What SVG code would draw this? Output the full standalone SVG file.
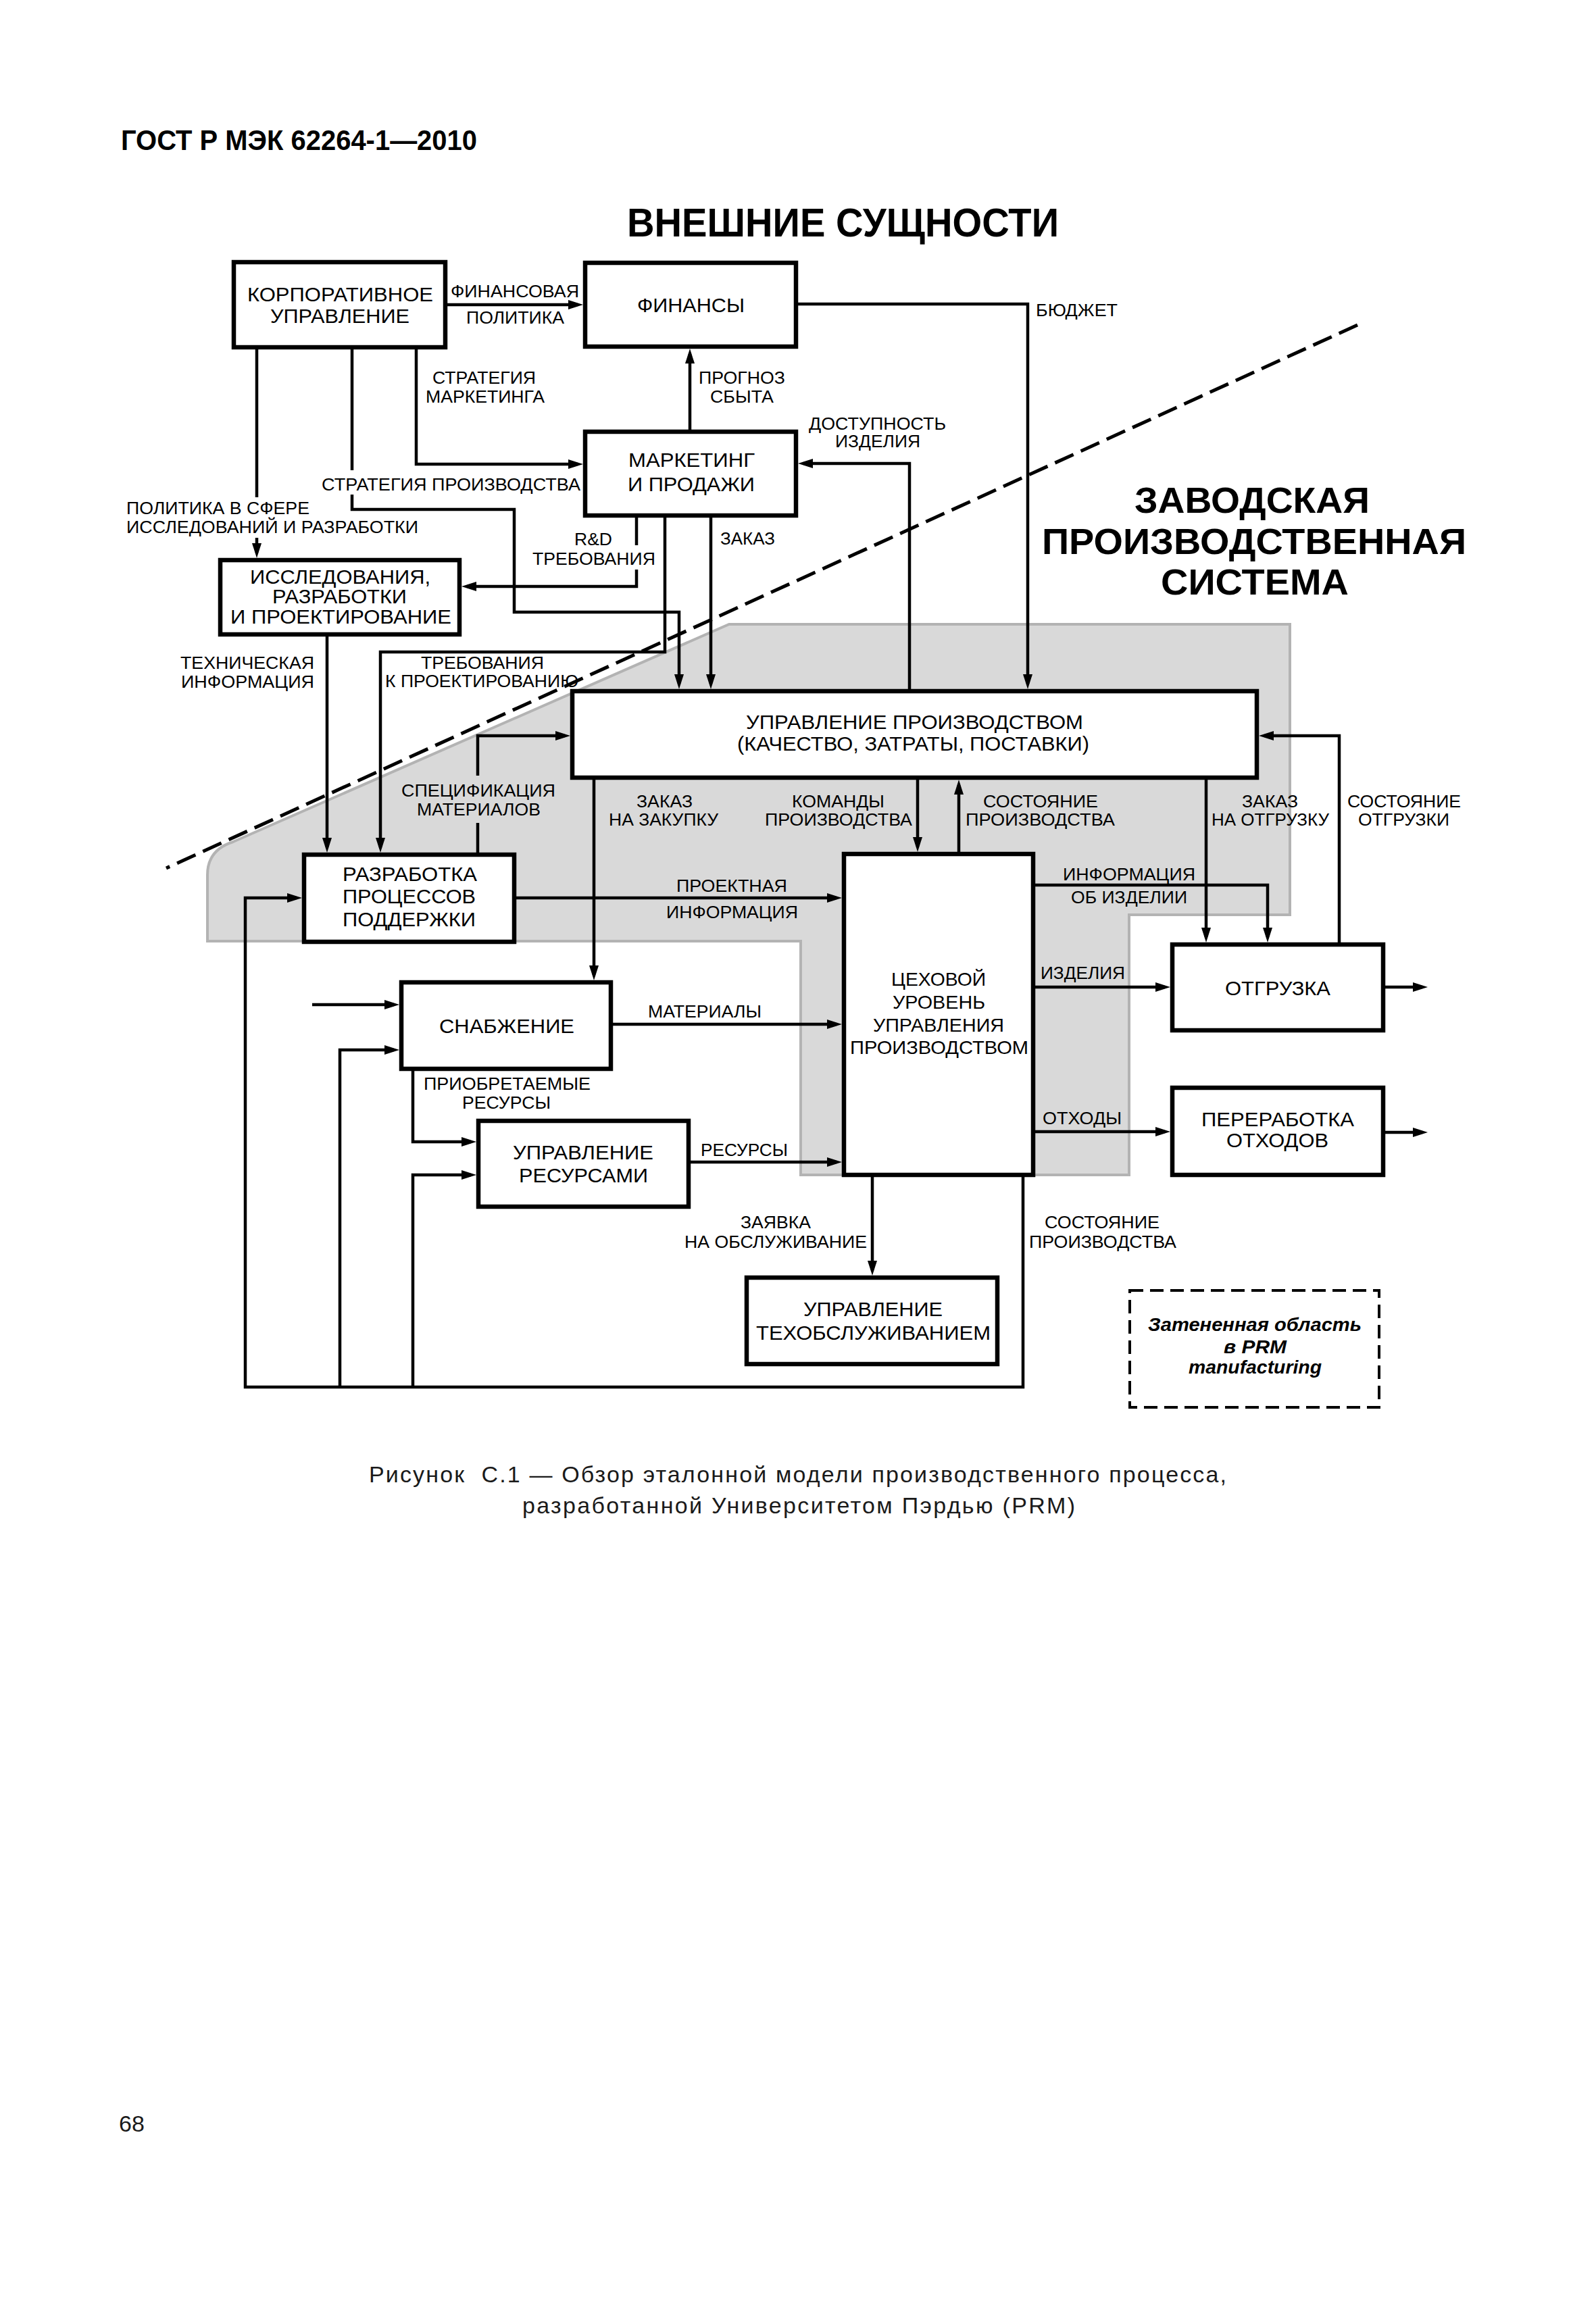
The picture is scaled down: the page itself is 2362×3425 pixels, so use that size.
<svg xmlns="http://www.w3.org/2000/svg" width="2362" height="3425" viewBox="0 0 2362 3425">
<defs>
<style>
text{font-family:"Liberation Sans",Arial,sans-serif;fill:#000}
.lb{font-size:25px}
.bt{font-size:30px}
.ct{font-size:28px}
.ttl{font-weight:bold}
.box{fill:#fff;stroke:#000;stroke-width:6.5}
.cn{fill:none;stroke:#000;stroke-width:4.5}
.ar{marker-end:url(#ah)}
.cap{font-size:34px;fill:#1a1a1a}
.leg{font-size:28px;font-weight:bold;font-style:italic}
</style>
<marker id="ah" viewBox="0 0 22 14" refX="14" refY="7" markerWidth="22" markerHeight="14" markerUnits="userSpaceOnUse" orient="auto"><path d="M0,0 L22,7 L0,14 z" fill="#000"/></marker>
</defs>
<rect x="0" y="0" width="2362" height="3425" fill="#fff"/>

<text x="179" y="222" class="ttl" font-size="42" textLength="527" lengthAdjust="spacingAndGlyphs" fill="#1a1a1a">ГОСТ Р МЭК 62264-1—2010</text>

<g id="shaded-area">
<path d="M1079 924 L1909 924 L1909 1354 L1671 1354 L1671 1739 L1185 1739 L1185 1393 L307 1393 L307 1295 Q307 1258 345 1246 Z" fill="#d9d9d9" stroke="#b3b3b3" stroke-width="4"/>
</g>
<g id="boundary">
<line x1="2009" y1="481" x2="246" y2="1285" stroke="#000" stroke-width="5" stroke-dasharray="30 12"/>
</g>

<g id="titles">
<text x="928" y="350" class="ttl" font-size="60" textLength="639" lengthAdjust="spacingAndGlyphs">ВНЕШНИЕ СУЩНОСТИ</text>
<text x="1679" y="759" class="ttl" font-size="54" textLength="348" lengthAdjust="spacingAndGlyphs">ЗАВОДСКАЯ</text>
<text x="1542" y="820" class="ttl" font-size="54" textLength="628" lengthAdjust="spacingAndGlyphs">ПРОИЗВОДСТВЕННАЯ</text>
<text x="1718" y="880" class="ttl" font-size="54" textLength="278" lengthAdjust="spacingAndGlyphs">СИСТЕМА</text>
</g>

<g id="connectors">
<path class="cn ar" d="M662 451 H855"/>
<path class="cn ar" d="M616 517 V687 H855"/>
<path class="cn" d="M521 517 V696"/>
<path class="cn ar" d="M521 732 V754 H761 V906 H1005 V1012"/>
<path class="cn" d="M380 517 V736"/>
<path class="cn ar" d="M380 796 V818"/>
<path class="cn ar" d="M1021 636 V524"/>
<path class="cn ar" d="M1181 450 H1521 V1012"/>
<path class="cn ar" d="M1346 1020 V686 H1189"/>
<path class="cn" d="M942 766 V807"/>
<path class="cn ar" d="M942 843 V868 H691"/>
<path class="cn ar" d="M984 766 V965 H563 V1254"/>
<path class="cn ar" d="M1052 766 V1012"/>
<path class="cn ar" d="M484 942 V1254"/>
<path class="cn" d="M707 1262 V1218"/>
<path class="cn ar" d="M707 1148 V1089 H836"/>
<path class="cn ar" d="M879 1154 V1443"/>
<path class="cn ar" d="M1358 1154 V1253"/>
<path class="cn ar" d="M1419 1261 V1162"/>
<path class="cn ar" d="M1785 1154 V1387"/>
<path class="cn ar" d="M1982 1395 V1089 H1871"/>
<path class="cn ar" d="M764 1329 H1238"/>
<path class="cn ar" d="M1532 1310 H1876 V1387"/>
<path class="cn ar" d="M1532 1461 H1724"/>
<path class="cn ar" d="M1532 1675 H1724"/>
<path class="cn ar" d="M2050 1461 H2105"/>
<path class="cn ar" d="M2050 1676 H2105"/>
<path class="cn ar" d="M462 1487 H583"/>
<path class="cn ar" d="M907 1516 H1238"/>
<path class="cn ar" d="M1022 1720 H1238"/>
<path class="cn ar" d="M611 1585 V1690 H697"/>
<path class="cn ar" d="M1291 1742 V1880"/>
<path class="cn ar" d="M1514 1742 V2053 H363 V1329 H439"/>
<path class="cn ar" d="M503 2053 V1554 H583"/>
<path class="cn ar" d="M611 2053 V1739 H697"/>
</g>

<g id="connector-labels" class="lb">
<text x="667" y="440" textLength="190" lengthAdjust="spacingAndGlyphs">ФИНАНСОВАЯ</text>
<text x="690" y="479" textLength="145" lengthAdjust="spacingAndGlyphs">ПОЛИТИКА</text>
<text x="640" y="568" textLength="153" lengthAdjust="spacingAndGlyphs">СТРАТЕГИЯ</text>
<text x="630" y="596" textLength="176" lengthAdjust="spacingAndGlyphs">МАРКЕТИНГА</text>
<text x="1034" y="568" textLength="128" lengthAdjust="spacingAndGlyphs">ПРОГНОЗ</text>
<text x="1051" y="596" textLength="94" lengthAdjust="spacingAndGlyphs">СБЫТА</text>
<text x="1533" y="468" textLength="121" lengthAdjust="spacingAndGlyphs">БЮДЖЕТ</text>
<text x="1197" y="636" textLength="203" lengthAdjust="spacingAndGlyphs">ДОСТУПНОСТЬ</text>
<text x="1236" y="662" textLength="126" lengthAdjust="spacingAndGlyphs">ИЗДЕЛИЯ</text>
<text x="476" y="726" textLength="383" lengthAdjust="spacingAndGlyphs">СТРАТЕГИЯ ПРОИЗВОДСТВА</text>
<text x="187" y="761" textLength="271" lengthAdjust="spacingAndGlyphs">ПОЛИТИКА В СФЕРЕ</text>
<text x="187" y="789" textLength="432" lengthAdjust="spacingAndGlyphs">ИССЛЕДОВАНИЙ И РАЗРАБОТКИ</text>
<text x="850" y="807" textLength="56" lengthAdjust="spacingAndGlyphs">R&amp;D</text>
<text x="788" y="836" textLength="182" lengthAdjust="spacingAndGlyphs">ТРЕБОВАНИЯ</text>
<text x="1066" y="806" textLength="81" lengthAdjust="spacingAndGlyphs">ЗАКАЗ</text>
<text x="267" y="990" textLength="198" lengthAdjust="spacingAndGlyphs">ТЕХНИЧЕСКАЯ</text>
<text x="268" y="1018" textLength="197" lengthAdjust="spacingAndGlyphs">ИНФОРМАЦИЯ</text>
<text x="623" y="990" textLength="182" lengthAdjust="spacingAndGlyphs">ТРЕБОВАНИЯ</text>
<text x="570" y="1017" textLength="286" lengthAdjust="spacingAndGlyphs">К ПРОЕКТИРОВАНИЮ</text>
<text x="594" y="1179" textLength="228" lengthAdjust="spacingAndGlyphs">СПЕЦИФИКАЦИЯ</text>
<text x="617" y="1207" textLength="183" lengthAdjust="spacingAndGlyphs">МАТЕРИАЛОВ</text>
<text x="942" y="1195" textLength="83" lengthAdjust="spacingAndGlyphs">ЗАКАЗ</text>
<text x="901" y="1222" textLength="162" lengthAdjust="spacingAndGlyphs">НА ЗАКУПКУ</text>
<text x="1172" y="1195" textLength="137" lengthAdjust="spacingAndGlyphs">КОМАНДЫ</text>
<text x="1132" y="1222" textLength="218" lengthAdjust="spacingAndGlyphs">ПРОИЗВОДСТВА</text>
<text x="1455" y="1195" textLength="170" lengthAdjust="spacingAndGlyphs">СОСТОЯНИЕ</text>
<text x="1429" y="1222" textLength="221" lengthAdjust="spacingAndGlyphs">ПРОИЗВОДСТВА</text>
<text x="1838" y="1195" textLength="83" lengthAdjust="spacingAndGlyphs">ЗАКАЗ</text>
<text x="1793" y="1222" textLength="174" lengthAdjust="spacingAndGlyphs">НА ОТГРУЗКУ</text>
<text x="1994" y="1195" textLength="168" lengthAdjust="spacingAndGlyphs">СОСТОЯНИЕ</text>
<text x="2010" y="1222" textLength="135" lengthAdjust="spacingAndGlyphs">ОТГРУЗКИ</text>
<text x="1001" y="1320" textLength="164" lengthAdjust="spacingAndGlyphs">ПРОЕКТНАЯ</text>
<text x="986" y="1359" textLength="195" lengthAdjust="spacingAndGlyphs">ИНФОРМАЦИЯ</text>
<text x="1573" y="1303" textLength="196" lengthAdjust="spacingAndGlyphs">ИНФОРМАЦИЯ</text>
<text x="1585" y="1337" textLength="172" lengthAdjust="spacingAndGlyphs">ОБ ИЗДЕЛИИ</text>
<text x="1540" y="1449" textLength="125" lengthAdjust="spacingAndGlyphs">ИЗДЕЛИЯ</text>
<text x="959" y="1506" textLength="168" lengthAdjust="spacingAndGlyphs">МАТЕРИАЛЫ</text>
<text x="627" y="1613" textLength="247" lengthAdjust="spacingAndGlyphs">ПРИОБРЕТАЕМЫЕ</text>
<text x="684" y="1641" textLength="131" lengthAdjust="spacingAndGlyphs">РЕСУРСЫ</text>
<text x="1037" y="1711" textLength="129" lengthAdjust="spacingAndGlyphs">РЕСУРСЫ</text>
<text x="1543" y="1664" textLength="117" lengthAdjust="spacingAndGlyphs">ОТХОДЫ</text>
<text x="1096" y="1818" textLength="104" lengthAdjust="spacingAndGlyphs">ЗАЯВКА</text>
<text x="1013" y="1847" textLength="270" lengthAdjust="spacingAndGlyphs">НА ОБСЛУЖИВАНИЕ</text>
<text x="1546" y="1818" textLength="170" lengthAdjust="spacingAndGlyphs">СОСТОЯНИЕ</text>
<text x="1523" y="1847" textLength="218" lengthAdjust="spacingAndGlyphs">ПРОИЗВОДСТВА</text>
</g>

<g id="corporate">
<rect class="box" x="346" y="388" width="313" height="126"/>
<text class="bt" x="366" y="446" textLength="275" lengthAdjust="spacingAndGlyphs">КОРПОРАТИВНОЕ</text>
<text class="bt" x="400" y="478" textLength="206" lengthAdjust="spacingAndGlyphs">УПРАВЛЕНИЕ</text>
</g>
<g id="finance">
<rect class="box" x="866" y="389" width="312" height="124"/>
<text class="bt" x="943" y="462" textLength="159" lengthAdjust="spacingAndGlyphs">ФИНАНСЫ</text>
</g>
<g id="marketing">
<rect class="box" x="866" y="639" width="312" height="124"/>
<text class="bt" x="930" y="691" textLength="187" lengthAdjust="spacingAndGlyphs">МАРКЕТИНГ</text>
<text class="bt" x="929" y="727" textLength="188" lengthAdjust="spacingAndGlyphs">И ПРОДАЖИ</text>
</g>
<g id="research">
<rect class="box" x="326" y="829" width="354" height="110"/>
<text class="bt" x="370" y="864" textLength="267" lengthAdjust="spacingAndGlyphs">ИССЛЕДОВАНИЯ,</text>
<text class="bt" x="403" y="893" textLength="199" lengthAdjust="spacingAndGlyphs">РАЗРАБОТКИ</text>
<text class="bt" x="341" y="923" textLength="327" lengthAdjust="spacingAndGlyphs">И ПРОЕКТИРОВАНИЕ</text>
</g>
<g id="production-control">
<rect class="box" x="847" y="1023" width="1013" height="128"/>
<text class="bt" x="1104" y="1079" textLength="499" lengthAdjust="spacingAndGlyphs">УПРАВЛЕНИЕ ПРОИЗВОДСТВОМ</text>
<text class="bt" x="1091" y="1111" textLength="521" lengthAdjust="spacingAndGlyphs">(КАЧЕСТВО, ЗАТРАТЫ, ПОСТАВКИ)</text>
</g>
<g id="process-support">
<rect class="box" x="450" y="1265" width="311" height="129"/>
<text class="bt" x="507" y="1304" textLength="199" lengthAdjust="spacingAndGlyphs">РАЗРАБОТКА</text>
<text class="bt" x="507" y="1337" textLength="197" lengthAdjust="spacingAndGlyphs">ПРОЦЕССОВ</text>
<text class="bt" x="507" y="1371" textLength="197" lengthAdjust="spacingAndGlyphs">ПОДДЕРЖКИ</text>
</g>
<g id="procurement">
<rect class="box" x="594" y="1454" width="310" height="128"/>
<text class="bt" x="650" y="1529" textLength="200" lengthAdjust="spacingAndGlyphs">СНАБЖЕНИЕ</text>
</g>
<g id="resource-management">
<rect class="box" x="708" y="1659" width="311" height="127"/>
<text class="bt" x="759" y="1716" textLength="208" lengthAdjust="spacingAndGlyphs">УПРАВЛЕНИЕ</text>
<text class="bt" x="768" y="1750" textLength="191" lengthAdjust="spacingAndGlyphs">РЕСУРСАМИ</text>
</g>
<g id="shop-floor">
<rect class="box" x="1249" y="1264" width="280" height="475"/>
<text class="ct" x="1319" y="1459" textLength="140" lengthAdjust="spacingAndGlyphs">ЦЕХОВОЙ</text>
<text class="ct" x="1321" y="1493" textLength="137" lengthAdjust="spacingAndGlyphs">УРОВЕНЬ</text>
<text class="ct" x="1292" y="1527" textLength="194" lengthAdjust="spacingAndGlyphs">УПРАВЛЕНИЯ</text>
<text class="ct" x="1258" y="1560" textLength="264" lengthAdjust="spacingAndGlyphs">ПРОИЗВОДСТВОМ</text>
</g>
<g id="shipping">
<rect class="box" x="1735" y="1398" width="312" height="127"/>
<text class="bt" x="1813" y="1473" textLength="156" lengthAdjust="spacingAndGlyphs">ОТГРУЗКА</text>
</g>
<g id="waste">
<rect class="box" x="1735" y="1610" width="312" height="129"/>
<text class="bt" x="1778" y="1667" textLength="226" lengthAdjust="spacingAndGlyphs">ПЕРЕРАБОТКА</text>
<text class="bt" x="1815" y="1698" textLength="151" lengthAdjust="spacingAndGlyphs">ОТХОДОВ</text>
</g>
<g id="maintenance">
<rect class="box" x="1105" y="1891" width="371" height="128"/>
<text class="bt" x="1189" y="1948" textLength="206" lengthAdjust="spacingAndGlyphs">УПРАВЛЕНИЕ</text>
<text class="bt" x="1119" y="1983" textLength="347" lengthAdjust="spacingAndGlyphs">ТЕХОБСЛУЖИВАНИЕМ</text>
</g>
<g id="legend">
<rect x="1672" y="1910" width="369" height="173" fill="none" stroke="#000" stroke-width="4" stroke-dasharray="20 10"/>
<text class="leg" x="1699" y="1970" textLength="316" lengthAdjust="spacingAndGlyphs">Затененная область</text>
<text class="leg" x="1811" y="2003" textLength="93" lengthAdjust="spacingAndGlyphs">в PRM</text>
<text class="leg" x="1759" y="2033" textLength="197" lengthAdjust="spacingAndGlyphs">manufacturing</text>
</g>

<g id="caption">
<text class="cap" x="546" y="2194" textLength="1269" lengthAdjust="spacing" xml:space="preserve">Рисунок  С.1 — Обзор эталонной модели производственного процесса,</text>
<text class="cap" x="773" y="2240" textLength="818" lengthAdjust="spacing">разработанной Университетом Пэрдью (PRM)</text>
</g>
<text class="cap" x="176" y="3155">68</text>
</svg>
